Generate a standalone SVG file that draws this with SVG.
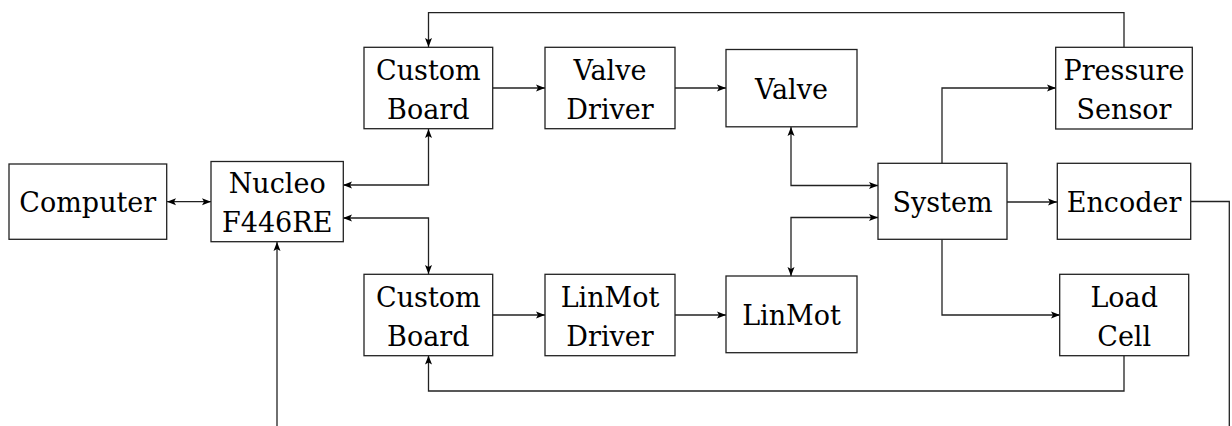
<svg xmlns="http://www.w3.org/2000/svg" width="1232" height="426" viewBox="0 0 1232 426">
<style>
.box{fill:#fff;stroke:#222;stroke-width:1.3}
.t{font-family:'DejaVu Serif',serif;font-size:27px;fill:#000;text-anchor:middle}
.c{fill:none;stroke:#222;stroke-width:1.3}
.a{marker-end:url(#ah)}
.b{marker-start:url(#ahs);marker-end:url(#ah)}
</style>
<defs>
<marker id="ah" markerUnits="userSpaceOnUse" markerWidth="10" markerHeight="8" refX="9" refY="4" orient="auto">
<path d="M0,0.5 L9,4 L0,7.5 L2,4 z" fill="#000"/>
</marker>
<marker id="ahs" markerUnits="userSpaceOnUse" markerWidth="10" markerHeight="8" refX="9" refY="4" orient="auto-start-reverse">
<path d="M0,0.5 L9,4 L0,7.5 L2,4 z" fill="#000"/>
</marker>
</defs>
<g id="connectors">
<path class="c b" d="M167,201.7 H211"/>
<path class="c b" d="M343,185 H428.5 V129"/>
<path class="c b" d="M343,218 H428.5 V274"/>
<path class="c a" d="M493,88 H545"/>
<path class="c a" d="M675,88 H726"/>
<path class="c b" d="M791,127 V185.5 H878"/>
<path class="c b" d="M791,276 V217.5 H878"/>
<path class="c a" d="M493,315 H545"/>
<path class="c a" d="M675,315 H726"/>
<path class="c a" d="M942,163 V88 H1056"/>
<path class="c a" d="M1007,202 H1057"/>
<path class="c a" d="M942,239 V315 H1060"/>
<path class="c a" d="M1124,47 V12.7 H428.5 V47"/>
<path class="c a" d="M1124,355.5 V391 H428.5 V355.5"/>
<path class="c" d="M1191,201.5 H1229.3 V426"/>
<path class="c a" d="M277,426 V242"/>
</g>
<g id="computer"><rect class="box" x="9" y="164" width="157.7" height="75.3"/><text class="t" x="87.8" y="212">Computer</text></g>
<g id="nucleo"><rect class="box" x="211" y="161.5" width="132.3" height="80.2"/><text class="t" x="277.2" y="193">Nucleo</text><text class="t" x="277.2" y="231.5">F446RE</text></g>
<g id="custom-board-top"><rect class="box" x="364" y="47.3" width="128.7" height="81.4"/><text class="t" x="428.3" y="80">Custom</text><text class="t" x="428.3" y="118.5">Board</text></g>
<g id="valve-driver"><rect class="box" x="545" y="47.3" width="130" height="81.4"/><text class="t" x="610" y="80">Valve</text><text class="t" x="610" y="118.5">Driver</text></g>
<g id="valve"><rect class="box" x="726" y="49.5" width="131" height="77.3"/><text class="t" x="791.5" y="98.5">Valve</text></g>
<g id="pressure-sensor"><rect class="box" x="1055.7" y="47.3" width="136.6" height="81.7"/><text class="t" x="1124" y="80">Pressure</text><text class="t" x="1124" y="118.5">Sensor</text></g>
<g id="system"><rect class="box" x="878" y="163.3" width="129" height="76"/><text class="t" x="942.5" y="212">System</text></g>
<g id="encoder"><rect class="box" x="1057.3" y="163.3" width="133.4" height="76"/><text class="t" x="1124" y="212">Encoder</text></g>
<g id="load-cell"><rect class="box" x="1059.7" y="274.3" width="129" height="81.4"/><text class="t" x="1124.2" y="307">Load</text><text class="t" x="1124.2" y="345.5">Cell</text></g>
<g id="custom-board-bottom"><rect class="box" x="364" y="274.3" width="128.7" height="81.4"/><text class="t" x="428.3" y="307">Custom</text><text class="t" x="428.3" y="345.5">Board</text></g>
<g id="linmot-driver"><rect class="box" x="545" y="274.3" width="130" height="81.4"/><text class="t" x="610" y="307">LinMot</text><text class="t" x="610" y="345.5">Driver</text></g>
<g id="linmot"><rect class="box" x="726" y="276" width="131" height="76.7"/><text class="t" x="791.5" y="325">LinMot</text></g>
</svg>
